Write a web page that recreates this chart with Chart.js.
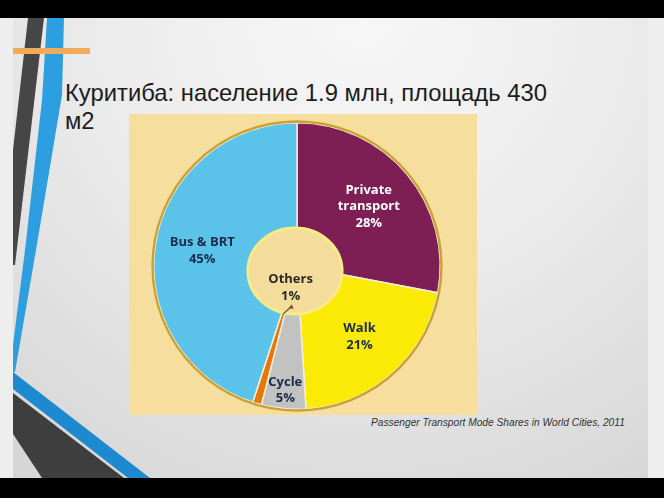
<!DOCTYPE html>
<html lang="ru">
  <head>
    <meta charset="utf-8" />
    <title>Куритиба</title>
    <style>
      html, body {
        margin: 0;
        padding: 0;
        width: 664px;
        height: 498px;
        overflow: hidden;
        background: #eeeeee;
        font-family: "Liberation Sans", Arial, sans-serif;
      }
      .slide {
        position: absolute;
        left: 13px;
        top: 18px;
        width: 635px;
        height: 460px;
        background: radial-gradient(ellipse 90% 120% at 55% 0%, #f7f7f7 0%, #ececec 45%, #d6d6d6 100%);
      }
      .bar {
        position: absolute;
        left: 0;
        width: 664px;
        background: #000;
      }
      #deco {
        position: absolute;
        left: 0;
        top: 0;
      }
      .title {
        position: absolute;
        left: 65px;
        top: 79px;
        font-size: 23.8px;
        line-height: 28px;
        color: #1c1c1c;
        width: 520px;
        white-space: nowrap;
      }
      .chartBox {
        position: absolute;
        left: 129px;
        top: 114px;
        width: 348px;
        height: 301px;
        background: #f5de9e;
      }
      .caption {
        position: absolute;
        left: 371px;
        top: 417px;
        font-size: 10.2px;
        font-style: italic;
        color: #333;
        white-space: nowrap;
      }
    </style>
  </head>
  <body>
    <div class="slide"></div>
    <svg id="deco" width="664" height="498">
      <polygon points="28,18 44,18 15,265 13,265 13,150" fill="#464646" />
      <polygon points="47,18 64,18 62,95 36,250 15,372 13,372 13,345 25,250 42,100" fill="#2d9fe0" />
      <polygon points="13,372 150,478 128,478 13,389" fill="#1d8ad0" />
      <polygon points="13,393 124,478 42,478 13,434" fill="#3e3e3e" />
      <rect x="13" y="48" width="77" height="6" fill="#f0aa5a" />
    </svg>
    <div class="bar" style="top:0;height:18px"></div>
    <div class="bar" style="top:478px;height:20px"></div>

    <div class="title">Куритиба: население 1.9 млн, площадь 430<br />м2</div>

    <div class="chartBox">
      <canvas id="myChart" width="348" height="301"></canvas>
    </div>

    <div class="caption">Passenger Transport Mode Shares in World Cities, 2011</div>

    <script src="https://cdn.jsdelivr.net/npm/chart.js/dist/chart.umd.min.js"></script>
    <script>
      // data
      const categories = ["Private\ntransport", "Walk", "Cycle", "Others", "Bus & BRT"];
      const shares = [28, 21, 5, 1, 45];
      const colors = ["#7d1f55", "#fbea05", "#c2c2c2", "#e8760a", "#5bc3ea"];
      const labelColors = ["#ffffff", "#1b2b4b", "#1b2b4b", "#2a2a2a", "#1b2b4b"];
      const labelRadius = [0.65, 0.66, 0.87, 0.16, 0.67];

      // labels + decorations drawn on top of the arcs
      const sliceLabels = {
        id: "sliceLabels",
        afterDatasetsDraw(chart) {
          const ctx = chart.ctx;
          const arcs = chart.getDatasetMeta(0).data;
          const cx = arcs[0].x;
          const cy = arcs[0].y;
          const R = arcs[0].outerRadius;
          const k = R / 143;

          ctx.save();
          // gold outer ring
          ctx.beginPath();
          ctx.arc(cx, cy, R + 1.2, 0, Math.PI * 2);
          ctx.strokeStyle = "#c9a233";
          ctx.lineWidth = 2.4;
          ctx.stroke();

          // inner disk (slightly oval in the original)
          ctx.beginPath();
          ctx.ellipse(cx - 2 * k, cy + 5 * k, 47 * k, 43 * k, 0, 0, Math.PI * 2);
          ctx.fillStyle = "#f4dc9c";
          ctx.fill();
          ctx.strokeStyle = "#f8ea84";
          ctx.lineWidth = 3;
          ctx.stroke();

          ctx.textAlign = "center";
          ctx.textBaseline = "middle";
          ctx.font = 'bold 13px "Open Sans", "Noto Sans", sans-serif';
          arcs.forEach((arc, i) => {
            const mid = (arc.startAngle + arc.endAngle) / 2;
            const r = R * labelRadius[i];
            const x = cx + Math.cos(mid) * r;
            const y = cy + Math.sin(mid) * r;
            const lines = categories[i].split("\n").concat(shares[i] + "%");
            const lh = 16.5;
            const y0 = y - ((lines.length - 1) * lh) / 2;
            ctx.fillStyle = labelColors[i];
            lines.forEach((t, j) => ctx.fillText(t, x, y0 + j * lh));

            if (categories[i] === "Others") {
              // small arrow from the label to its slice
              const ex = cx + Math.cos(mid) * 50 * k;
              const ey = cy + Math.sin(mid) * 50 * k;
              const sx = x + 1;
              const sy = y0 + lh + 10;
              ctx.beginPath();
              ctx.moveTo(ex, ey);
              ctx.lineTo(sx, sy);
              ctx.strokeStyle = "#6b4a2a";
              ctx.lineWidth = 1.2;
              ctx.stroke();
              ctx.beginPath();
              ctx.moveTo(sx, sy - 2);
              ctx.lineTo(sx - 2.5, sy + 2);
              ctx.lineTo(sx + 2, sy + 2.5);
              ctx.closePath();
              ctx.fillStyle = "#6b4a2a";
              ctx.fill();
            }
          });
          ctx.restore();
        },
      };

      const config = {
        type: "doughnut",
        data: {
          labels: categories,
          datasets: [
            {
              data: shares,
              backgroundColor: colors,
              borderColor: "#f3eedb",
              borderWidth: 1.5,
            },
          ],
        },
        options: {
          responsive: false,
          animation: false,
          cutout: "24%",
          layout: {
            padding: { left: 24, right: 36, top: 8, bottom: 5 },
          },
          plugins: {
            legend: { display: false },
            tooltip: { enabled: false },
          },
        },
        plugins: [sliceLabels],
      };

      const myChart = new Chart(document.getElementById("myChart"), config);
    </script>
  </body>
</html>
